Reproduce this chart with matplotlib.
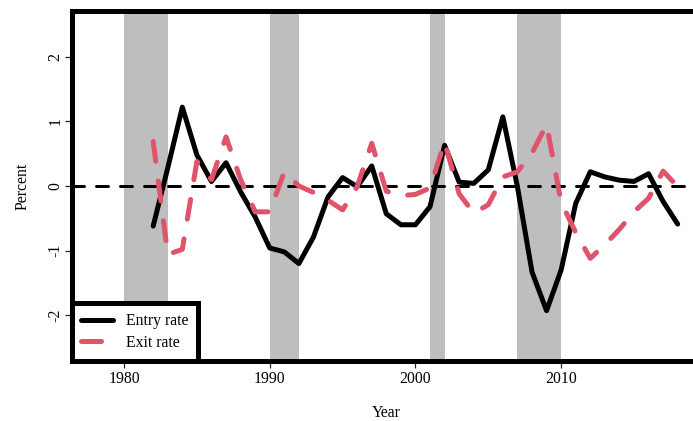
import matplotlib
matplotlib.use("Agg")
import matplotlib.pyplot as plt

plt.rcParams["font.family"] = ["Liberation Serif", "DejaVu Serif"]
plt.rcParams["axes.unicode_minus"] = False

years = list(range(1982, 2019))
entry_rate = [-0.62, 0.28, 1.22, 0.48, 0.07, 0.36, -0.09, -0.48, -0.96, -1.02,
              -1.20, -0.79, -0.17, 0.13, -0.01, 0.31, -0.43, -0.60, -0.60, -0.32,
              0.63, 0.06, 0.04, 0.25, 1.07, -0.01, -1.33, -1.93, -1.30, -0.27,
              0.22, 0.14, 0.09, 0.07, 0.19, -0.24, -0.59]
exit_rate = [0.69, -1.06, -0.98, 0.38, 0.10, 0.76, 0.10, -0.40, -0.40, 0.22,
             0.00, -0.10, -0.22, -0.37, -0.01, 0.66, -0.08, -0.15, -0.13, -0.03,
             0.68, -0.12, -0.42, -0.29, 0.14, 0.22, 0.51, 0.95, -0.25, -0.72,
             -1.12, -0.91, -0.67, -0.40, -0.19, 0.23, -0.01]
recessions = [(1980, 1983), (1990, 1992), (2001, 2002), (2007, 2010)]
x_ticks = [1980, 1990, 2000, 2010]
y_ticks = [-2, -1, 0, 1, 2]

W, H = 693, 421
fig = plt.figure(figsize=(W / 100, H / 100), dpi=100)
# plot region runs past the right edge of the picture
ax = fig.add_axes([71.6 / W, (H - 360.7) / H, (701 - 71.6) / W, (360.7 - 11.3) / H])
ax.set_xlim(1976.4, 2019.6)
ax.set_ylim(-2.704, 2.704)

for start, end in recessions:
    ax.axvspan(start, end, color="#BEBEBE", lw=0, zorder=0)

ax.axhline(0, color="black", lw=2.16, linestyle=(0, (4, 4)),
           dash_capstyle="round", zorder=1)
ax.plot(years, entry_rate, color="black", lw=3.6, solid_joinstyle="round",
        solid_capstyle="round", label="Entry rate", zorder=2)
ax.plot(years, exit_rate, color="#DF536B", lw=3.6, linestyle=(0, (4, 4)),
        dash_capstyle="round", dash_joinstyle="round", label="Exit rate", zorder=3)

for side in ["left", "top", "bottom", "right"]:
    ax.spines[side].set_linewidth(3.6)
    ax.spines[side].set_capstyle("projecting")

ax.set_xticks(x_ticks)
ax.set_yticks(y_ticks)
ax.set_yticklabels([str(v) for v in y_ticks], rotation=90, va="center")
ax.tick_params(axis="both", length=5, width=0.9, color="#222222", labelsize=11.3)
ax.tick_params(axis="x", pad=2.5)
ax.tick_params(axis="y", pad=0.8)

fig.text(22.5 / W, 1 - 186 / H, "Percent", rotation=90, ha="center", va="center", fontsize=11.3)
fig.text(386.5 / W, 1 - 413 / H, "Year", ha="center", va="center", fontsize=11.3)

leg = ax.legend(loc="lower left", bbox_to_anchor=(0, 0), borderaxespad=0,
                fancybox=False, edgecolor="black", framealpha=1, fontsize=11.3,
                handlelength=2.0, handletextpad=0.85, borderpad=0.62, labelspacing=0.38)
leg.get_frame().set_linewidth(3.6)

fig.savefig("out.png", dpi=100)
